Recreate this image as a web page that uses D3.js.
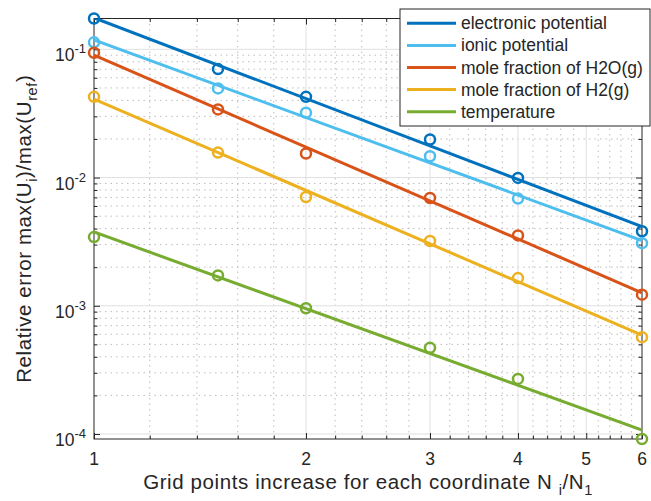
<!DOCTYPE html>
<html>
<head>
<meta charset="utf-8">
<script src="https://cdn.jsdelivr.net/npm/d3@7"></script>
<style>
  body { margin: 0; background: #fff; }
  svg text { font-family: "Liberation Sans", Arial, Helvetica, sans-serif; fill: #262626; }
</style>
</head>
<body>
<div id="chart"></div>
<script>
// grid refinement factors N_i/N_1
var ratios = [1, 1.5, 2, 3, 4, 6];

var electronic = [0.174, 0.0702, 0.0426, 0.0198, 0.00993, 0.00381];
var ionic      = [0.1134, 0.0496, 0.0320, 0.01466, 0.00686, 0.00308];
var h2o        = [0.0941, 0.0340, 0.0154, 0.00693, 0.00354, 0.00122];
var h2         = [0.0426, 0.01567, 0.00705, 0.0032, 0.001644, 0.000569];
var temperature = [0.003436, 0.001726, 0.000957, 0.00047, 0.000269, 0.0000914];

var seriesNames = ["electronic potential", "ionic potential", "mole fraction of H2O(g)", "mole fraction of H2(g)", "temperature"];
var colors = ["#0072BD", "#4DBEEE", "#D95319", "#EDB120", "#77AC30"];

var xTicks = [1, 2, 3, 4, 5, 6];
var yTicks = [1e-4, 1e-3, 1e-2, 1e-1];
var yTickExp = ["-4", "-3", "-2", "-1"];

var series = [electronic, ionic, h2o, h2, temperature];

var width = 651, height = 501;
var axL = 94, axR = 642, axT = 18.5, axB = 439;

var svg = d3.select("#chart").append("svg").attr("width", width).attr("height", height);

var allVals = d3.merge(series);
var x = d3.scaleLog().domain([1, 6]).range([axL, axR]);
var y = d3.scaleLog().domain([d3.min(allVals), d3.max(allVals)]).range([axB, axT]);

// minor positions
var xMinor = [];
for (var v = 1.2; v < 6; v += 0.2) {
  var r = Math.round(v * 10) / 10;
  if (Math.abs(r - Math.round(r)) > 1e-6) xMinor.push(r);
}
var yMinor = [];
for (var e = -5; e <= 0; e++) {
  for (var k = 2; k <= 9; k++) {
    var val = k * Math.pow(10, e);
    if (val >= y.domain()[0] && val <= y.domain()[1]) yMinor.push(val);
  }
}

// grid
var grid = svg.append("g");
grid.selectAll("line.xminor").data(xMinor).enter().append("line")
  .attr("x1", function(d) { return x(d); }).attr("x2", function(d) { return x(d); })
  .attr("y1", axT).attr("y2", axB)
  .attr("stroke", "#bdbdbd").attr("stroke-width", 1).attr("stroke-dasharray", "1.5,4");
grid.selectAll("line.yminor").data(yMinor).enter().append("line")
  .attr("y1", function(d) { return y(d); }).attr("y2", function(d) { return y(d); })
  .attr("x1", axL).attr("x2", axR)
  .attr("stroke", "#bdbdbd").attr("stroke-width", 1).attr("stroke-dasharray", "1.5,4");
grid.selectAll("line.xmajor").data(xTicks.slice(1, 5)).enter().append("line")
  .attr("x1", function(d) { return x(d); }).attr("x2", function(d) { return x(d); })
  .attr("y1", axT).attr("y2", axB)
  .attr("stroke", "#e0e0e0").attr("stroke-width", 1);
grid.selectAll("line.ymajor").data(yTicks).enter().append("line")
  .attr("y1", function(d) { return y(d); }).attr("y2", function(d) { return y(d); })
  .attr("x1", axL).attr("x2", axR)
  .attr("stroke", "#e0e0e0").attr("stroke-width", 1);

// axes with inward ticks on all sides
function tickAxis(axisFn, scale, vals, size) {
  return axisFn(scale).tickValues(vals).tickSize(size).tickFormat("");
}
var axes = svg.append("g").attr("class", "axes");
axes.append("g").attr("transform", "translate(0," + axB + ")").call(tickAxis(d3.axisTop, x, xTicks, 6));
axes.append("g").attr("transform", "translate(0," + axB + ")").call(tickAxis(d3.axisTop, x, xMinor, 3.5));
axes.append("g").attr("transform", "translate(0," + axT + ")").call(tickAxis(d3.axisBottom, x, xTicks, 6));
axes.append("g").attr("transform", "translate(0," + axT + ")").call(tickAxis(d3.axisBottom, x, xMinor, 3.5));
axes.append("g").attr("transform", "translate(" + axL + ",0)").call(tickAxis(d3.axisRight, y, yTicks, 6));
axes.append("g").attr("transform", "translate(" + axL + ",0)").call(tickAxis(d3.axisRight, y, yMinor, 3.5));
axes.append("g").attr("transform", "translate(" + axR + ",0)").call(tickAxis(d3.axisLeft, y, yTicks, 6));
axes.append("g").attr("transform", "translate(" + axR + ",0)").call(tickAxis(d3.axisLeft, y, yMinor, 3.5));
axes.selectAll(".domain").remove();
axes.selectAll("line").attr("stroke", "#262626");
svg.append("rect").attr("x", axL).attr("y", axT).attr("width", axR - axL).attr("height", axB - axT)
  .attr("fill", "none").attr("stroke", "#262626").attr("stroke-width", 1);

// tick labels
svg.selectAll("text.xt").data(xTicks).enter().append("text")
  .attr("x", function(d) { return x(d); }).attr("y", 465)
  .attr("text-anchor", "middle").attr("font-size", 17.5).text(function(d) { return d; });
var yl = svg.selectAll("text.yt").data(yTicks).enter().append("text")
  .attr("x", 86).attr("y", function(d) { return y(d) + 12; })
  .attr("text-anchor", "end").attr("font-size", 17.5);
yl.append("tspan").text("10");
yl.append("tspan").attr("dy", -8).attr("font-size", 13).text(function(d, i) { return yTickExp[i]; });

// axis labels
var xl = svg.append("text").attr("x", (axL + axR) / 2).attr("y", 489)
  .attr("text-anchor", "middle").attr("font-size", 20.5).attr("letter-spacing", 0.6);
xl.append("tspan").text("Grid points increase for each coordinate N ");
xl.append("tspan").attr("dy", 6).attr("font-size", 14.5).text("i");
xl.append("tspan").attr("dy", -6).text("/N");
xl.append("tspan").attr("dy", 6).attr("font-size", 14.5).text("1");

var ylab = svg.append("text").attr("transform", "translate(31," + ((axT + axB) / 2) + ") rotate(-90)")
  .attr("text-anchor", "middle").attr("font-size", 20.5).attr("letter-spacing", 0.6);
ylab.append("tspan").text("Relative error max(U");
ylab.append("tspan").attr("dy", 6).attr("font-size", 14.5).text("i");
ylab.append("tspan").attr("dy", -6).text(")/max(U");
ylab.append("tspan").attr("dy", 6).attr("font-size", 14.5).text("ref");
ylab.append("tspan").attr("dy", -6).text(")");

// least squares fit in log-log space
function fitLine(xs, ys) {
  var lx = xs.map(Math.log10), ly = ys.map(Math.log10);
  var mx = d3.mean(lx), my = d3.mean(ly);
  var sxy = d3.sum(lx, function(v, i) { return (v - mx) * (ly[i] - my); });
  var sxx = d3.sum(lx, function(v) { return (v - mx) * (v - mx); });
  var b = sxy / sxx, a = my - b * mx;
  return [1, 6].map(function(t) { return [t, Math.pow(10, a + b * Math.log10(t))]; });
}

svg.append("clipPath").attr("id", "clip").append("rect")
  .attr("x", axL).attr("y", axT).attr("width", axR - axL).attr("height", axB - axT);

var line = d3.line().x(function(d) { return x(d[0]); }).y(function(d) { return y(d[1]); });
var plot = svg.append("g");
series.forEach(function(s, i) {
  plot.append("path").datum(fitLine(ratios, s)).attr("d", line)
    .attr("clip-path", "url(#clip)")
    .attr("fill", "none").attr("stroke", colors[i]).attr("stroke-width", 3);
});
series.forEach(function(s, i) {
  plot.selectAll("circle.s" + i).data(s).enter().append("circle")
    .attr("cx", function(d, j) { return x(ratios[j]); })
    .attr("cy", function(d) { return y(d); })
    .attr("r", 5).attr("fill", "none").attr("stroke", colors[i]).attr("stroke-width", 2.5);
});

// legend
var legend = svg.append("g");
legend.append("rect").attr("x", 400).attr("y", 9).attr("width", 250).attr("height", 117)
  .attr("fill", "#fff").attr("stroke", "#262626").attr("stroke-width", 1);
seriesNames.forEach(function(n, i) {
  var ly = 23.3 + i * 22.1;
  legend.append("line").attr("x1", 407).attr("x2", 456).attr("y1", ly).attr("y2", ly)
    .attr("stroke", colors[i]).attr("stroke-width", 3);
  legend.append("text").attr("x", 461).attr("y", ly + 6).attr("font-size", 17.5).text(n);
});
</script>
</body>
</html>
